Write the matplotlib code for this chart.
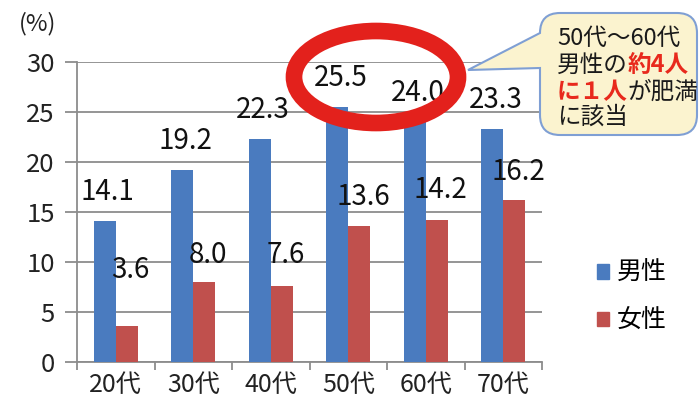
import matplotlib
matplotlib.use("Agg")
import matplotlib.pyplot as plt
from matplotlib.patches import Ellipse, PathPatch, Patch
from matplotlib.path import Path
import numpy as np

plt.rcParams['font.family'] = ['Noto Sans CJK JP', 'DejaVu Sans']

ages = ["20代", "30代", "40代", "50代", "60代", "70代"]
male = [14.1, 19.2, 22.3, 25.5, 24.0, 23.3]
female = [3.6, 8.0, 7.6, 13.6, 14.2, 16.2]
yticks = [0, 5, 10, 15, 20, 25, 30]

BLUE = "#4a7bbf"
RED = "#c0504d"
GRID = "#8c8c8c"

W, H = 699, 417
fig = plt.figure(figsize=(W / 100, H / 100), dpi=100)


def fx(px):
    return px / W


def fy(py):
    return 1 - py / H


ax = fig.add_axes([fx(77), fy(362), fx(542) - fx(77), fy(62) - fy(362)])

x = np.arange(len(ages))
bw = 0.285
ax.bar(x - bw / 2, male, bw, color=BLUE, zorder=3)
ax.bar(x + bw / 2, female, bw, color=RED, zorder=3)

# data labels (the 20代 female one sits higher in the original)
f_off = [5.6, 2.7, 3.1, 2.9, 3.0, 2.8]
for i in range(len(ages)):
    ax.text(x[i] - bw / 2 + 0.04, male[i] + 2.9, f"{male[i]:.1f}", ha="center", va="center",
            fontsize=20, color="#111111", zorder=4)
    ax.text(x[i] + bw / 2 + 0.05, female[i] + f_off[i], f"{female[i]:.1f}", ha="center", va="center",
            fontsize=20, color="#111111", zorder=4)

ax.set_xlim(-0.5, len(ages) - 0.5)
ax.set_ylim(0, 30)
ax.set_yticks(yticks)
ax.set_yticklabels([str(v) for v in yticks], fontsize=18.5, color="#222222")
ax.yaxis.grid(True, color=GRID, linewidth=1.3, zorder=0)
ax.tick_params(axis="y", length=9, color=GRID, width=1.3, pad=7)

ax.set_xticks(x)
ax.set_xticklabels(ages, fontsize=18, color="#222222")
ax.tick_params(axis="x", length=0, pad=7)
ax.set_xticks(np.arange(len(ages) + 1) - 0.5, minor=True)
ax.tick_params(axis="x", which="minor", length=6, color=GRID, width=1.3)

for s in ["top", "right"]:
    ax.spines[s].set_visible(False)
for s in ["left", "bottom"]:
    ax.spines[s].set_color(GRID)
    ax.spines[s].set_linewidth(1.3)

fig.text(fx(38), fy(24), "(%)", ha="center", va="center", fontsize=17, color="#222222")

handles = [Patch(color=BLUE), Patch(color=RED)]
fig.legend(handles, ["男性", "女性"], loc="center left", bbox_to_anchor=(fx(574), fy(297)),
           frameon=False, fontsize=18, handlelength=0.5, handleheight=0.5,
           handletextpad=0.3, labelspacing=0.85)

# red ellipse
ell = Ellipse((fx(376), fy(77)), fx(164), 92 / H, transform=fig.transFigure,
              fill=False, edgecolor="#e3211c", linewidth=12, zorder=10)
fig.add_artist(ell)

# callout box with pointer
x0, x1, y0, y1, r = 540, 697, 13, 135, 20
pts = [
    ((x0 + r, y0), Path.MOVETO),
    ((x1 - r, y0), Path.LINETO),
    ((x1, y0), Path.CURVE3), ((x1, y0 + r), Path.CURVE3),
    ((x1, y1 - r), Path.LINETO),
    ((x1, y1), Path.CURVE3), ((x1 - r, y1), Path.CURVE3),
    ((x0 + r, y1), Path.LINETO),
    ((x0, y1), Path.CURVE3), ((x0, y1 - r), Path.CURVE3),
    ((x0, 68), Path.LINETO),
    ((468, 70), Path.LINETO),
    ((x0, y0 + r), Path.LINETO),
    ((x0, y0), Path.CURVE3), ((x0 + r, y0), Path.CURVE3),
    ((x0 + r, y0), Path.CLOSEPOLY),
]
verts = [(fx(p[0]), fy(p[1])) for p, _ in pts]
codes = [c for _, c in pts]
box = PathPatch(Path(verts, codes), transform=fig.transFigure, facecolor="#fbf3cf",
                edgecolor="#7f9fd4", linewidth=1.5, zorder=11)
fig.add_artist(box)

TXT_RED = "#e8291c"
lines = [
    [("50代～60代", "#1a1a1a", "normal")],
    [("男性の", "#1a1a1a", "normal"), ("約4人", TXT_RED, "bold")],
    [("に１人", TXT_RED, "bold"), ("が肥満", "#1a1a1a", "normal")],
    [("に該当", "#1a1a1a", "normal")],
]
line_y = [38, 65, 92, 117]
fig.canvas.draw()
renderer = fig.canvas.get_renderer()
for runs, ly in zip(lines, line_y):
    cx = 557
    for s, c, w in runs:
        t = fig.text(fx(cx), fy(ly), s, ha="left", va="center", fontsize=17, color=c,
                     fontweight=w, zorder=12)
        bb = t.get_window_extent(renderer)
        cx += bb.width

fig.savefig("out.png", dpi=100)
